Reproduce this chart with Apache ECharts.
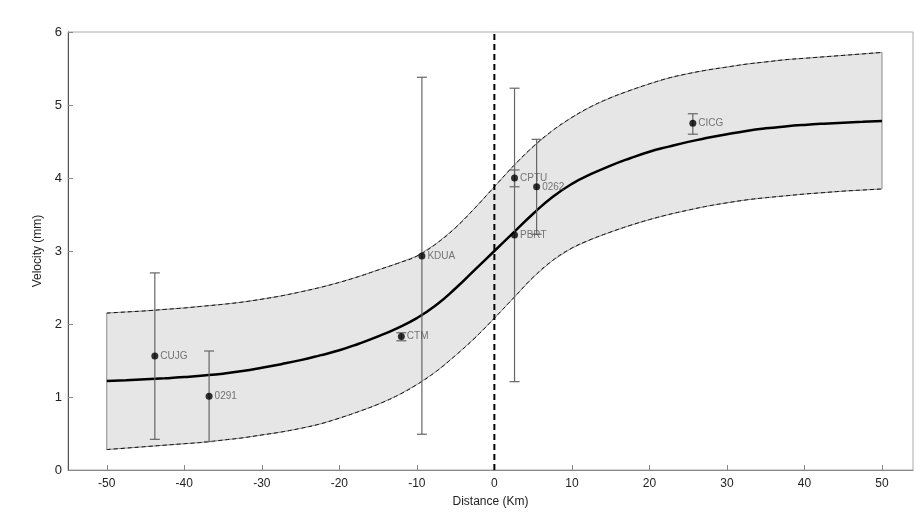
<!DOCTYPE html>
<html>
<head>
<meta charset="utf-8">
<script src="https://cdn.jsdelivr.net/npm/echarts@6/dist/echarts.min.js"></script>
<style>html,body{margin:0;padding:0;background:#fff;}#c{width:914px;height:513px;}</style>
</head>
<body>
<div id="c"></div>
<script>
// Model curve (distance in km)
const xs = [-50,-47.5,-45,-42.5,-40,-37.5,-35,-32.5,-30,-27.5,-25,-22.5,-20,-17.5,-15,-12.5,-10,-7.5,-5,-2.5,0,
            2.5,5,7.5,10,12.5,15,17.5,20,22.5,25,27.5,30,32.5,35,37.5,40,42.5,45,47.5,50];
const center = [1.22,1.23,1.242,1.256,1.273,1.294,1.32,1.355,1.40,1.45,1.505,1.57,1.64,1.73,1.83,1.945,2.08,2.26,2.49,2.745,3.00,
                3.255,3.51,3.74,3.92,4.055,4.17,4.27,4.36,4.43,4.495,4.55,4.60,4.645,4.68,4.706,4.727,4.744,4.758,4.77,4.78];
const upper = [2.15,2.165,2.18,2.20,2.22,2.245,2.27,2.30,2.34,2.385,2.44,2.50,2.57,2.65,2.74,2.83,2.93,3.10,3.32,3.59,3.88,
               4.17,4.43,4.65,4.83,4.98,5.10,5.20,5.29,5.37,5.43,5.48,5.52,5.56,5.59,5.62,5.64,5.66,5.68,5.70,5.72];
const lower = [0.28,0.30,0.32,0.34,0.36,0.38,0.41,0.44,0.48,0.52,0.57,0.63,0.71,0.80,0.90,1.02,1.17,1.35,1.57,1.81,2.08,
               2.36,2.64,2.87,3.04,3.16,3.26,3.35,3.43,3.50,3.56,3.615,3.66,3.70,3.73,3.755,3.78,3.80,3.82,3.835,3.85];

// Stations
const names = ['CUJG','0291','CTM','KDUA','CPTU','PBRT','0262','CICG'];
const dist = [-43.8,-36.8,-12.0,-9.35,2.6,2.6,5.45,25.6];
const vel = [1.56,1.01,1.83,2.93,4.00,3.22,3.88,4.75];
const errLow = [0.42,0.39,1.77,0.49,3.88,1.21,3.23,4.60];
const errHigh = [2.70,1.63,1.88,5.38,4.11,5.23,4.53,4.88];

// Ticks
const xTicks = [-50,-40,-30,-20,-10,0,10,20,30,40,50];

const font = '"Liberation Sans", Arial, sans-serif';
const chart = echarts.init(document.getElementById('c'), null, {renderer: 'canvas'});

const bandData = xs.map((x, i) => [x, lower[i], upper[i]]);

chart.setOption({
  animation: false,
  backgroundColor: '#fff',
  grid: {left: 68, top: 32, right: 1, bottom: 43, show: true, borderColor: '#aaa', borderWidth: 1},
  xAxis: {
    type: 'value', min: -55, max: 54,
    name: 'Distance (Km)', nameLocation: 'middle', nameGap: 26,
    nameTextStyle: {fontFamily: font, fontSize: 12, color: '#222'},
    axisLine: {onZero: false, lineStyle: {color: '#888', width: 1}},
    axisTick: {inside: true, length: 5, lineStyle: {color: '#888'}, customValues: xTicks},
    axisLabel: {fontFamily: font, fontSize: 12, color: '#222', margin: 8, customValues: xTicks},
    splitLine: {show: false}
  },
  yAxis: {
    type: 'value', min: 0, max: 6, interval: 1,
    name: 'Velocity (mm)', nameLocation: 'middle', nameGap: 20,
    nameTextStyle: {fontFamily: font, fontSize: 12, color: '#222'},
    axisLine: {show: true, onZero: false, lineStyle: {color: '#555', width: 1}},
    axisTick: {show: true, inside: true, length: 5, lineStyle: {color: '#888'}},
    axisLabel: {fontFamily: font, fontSize: 13, color: '#222', margin: 6},
    splitLine: {show: false}
  },
  series: [
    {
      type: 'custom', z: 1, silent: true,
      data: bandData,
      encode: {x: 0, y: [1, 2]},
      renderItem: function (params, api) {
        if (params.dataIndex !== 0) return null;
        const pts = [];
        for (let i = 0; i < xs.length; i++) pts.push(api.coord([xs[i], upper[i]]));
        for (let i = xs.length - 1; i >= 0; i--) pts.push(api.coord([xs[i], lower[i]]));
        return {type: 'polygon', shape: {points: pts}, style: {fill: '#e6e6e6', stroke: '#8a8a8a', lineWidth: 1}};
      }
    },
    {
      type: 'line', z: 2, silent: true, showSymbol: false, smooth: 0.5,
      data: xs.map((x, i) => [x, upper[i]]),
      lineStyle: {color: '#111', width: 1, type: [4, 3]}
    },
    {
      type: 'line', z: 2, silent: true, showSymbol: false, smooth: 0.5,
      data: xs.map((x, i) => [x, lower[i]]),
      lineStyle: {color: '#111', width: 1, type: [4, 3]}
    },
    {
      type: 'line', z: 3, silent: true, showSymbol: false, smooth: 0.5,
      data: xs.map((x, i) => [x, center[i]]),
      lineStyle: {color: '#000', width: 2.5}
    },
    {
      type: 'line', z: 3, silent: true, showSymbol: false,
      data: [[0, 0], [0, 6]],
      lineStyle: {color: '#000', width: 2, type: [6, 4]}
    },
    {
      type: 'custom', z: 4, silent: true,
      data: dist.map((d, i) => [d, errLow[i], errHigh[i]]),
      encode: {x: 0, y: [1, 2]},
      renderItem: function (params, api) {
        const x = api.value(0);
        const lo = api.coord([x, api.value(1)]);
        const hi = api.coord([x, api.value(2)]);
        const w = 5;
        const st = {stroke: '#666', lineWidth: 1.2};
        return {type: 'group', children: [
          {type: 'line', shape: {x1: lo[0], y1: lo[1], x2: hi[0], y2: hi[1]}, style: st},
          {type: 'line', shape: {x1: hi[0] - w, y1: hi[1], x2: hi[0] + w, y2: hi[1]}, style: st},
          {type: 'line', shape: {x1: lo[0] - w, y1: lo[1], x2: lo[0] + w, y2: lo[1]}, style: st}
        ]};
      }
    },
    {
      type: 'scatter', z: 5, silent: true,
      data: dist.map((d, i) => ({value: [d, vel[i]], name: names[i]})),
      symbol: 'circle', symbolSize: 7,
      itemStyle: {color: '#000'},
      label: {show: true, position: 'right', distance: 2, formatter: '{b}', fontFamily: font, fontSize: 10, color: '#555'}
    }
  ]
});
</script>
</body>
</html>
